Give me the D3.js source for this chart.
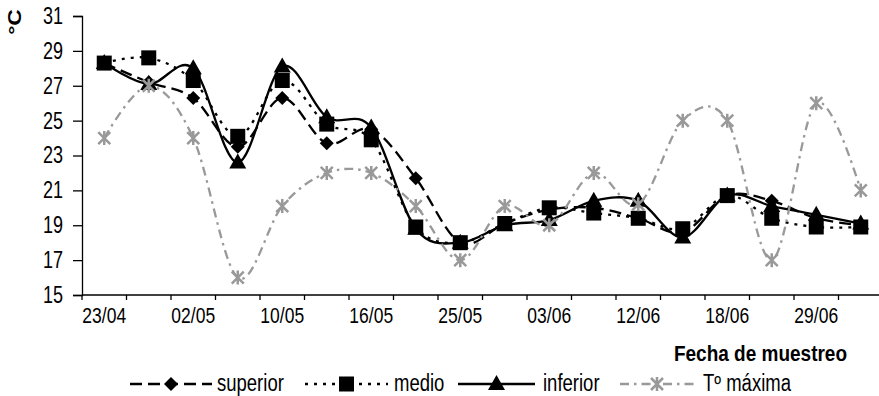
<!DOCTYPE html>
<html>
<head>
<meta charset="utf-8">
<script src="https://cdn.jsdelivr.net/npm/d3@7"></script>
<style>
  body { margin: 0; background: #fff; }
  svg text { font-family: "Liberation Sans", Arial, sans-serif; fill: #000; }
</style>
</head>
<body>
<div id="chart"></div>
<script>
// sampling dates (only every second one is labelled on the axis)
var fechas = ["23/04", "27/04", "02/05", "06/05", "10/05", "13/05", "16/05", "20/05", "25/05",
  "29/05", "03/06", "07/06", "12/06", "15/06", "18/06", "24/06", "29/06", "03/07"];

var superior = [28.3, 27.2, 26.3, 23.5, 26.3, 23.7, 24.5, 21.7, 18.0, 19.1, 19.9, 20.0, 19.4, 18.6, 20.7, 20.4, 19.4, 19.0];
var medio    = [28.3, 28.6, 27.3, 24.1, 27.3, 24.8, 23.9, 18.9, 18.0, 19.1, 20.0, 19.7, 19.4, 18.8, 20.7, 19.4, 18.9, 18.9];
var inferior = [28.3, 27.1, 28.0, 22.6, 28.1, 25.2, 24.6, 18.8, 18.0, 19.0, 19.3, 20.4, 20.4, 18.3, 20.7, 20.1, 19.6, 19.1];
var tmax     = [24.0, 27.0, 24.0, 16.0, 20.1, 22.0, 22.0, 20.1, 17.0, 20.1, 19.0, 22.0, 20.2, 25.0, 25.0, 17.0, 26.0, 21.0];

var yTicks = [15, 17, 19, 21, 23, 25, 27, 29, 31];

var width = 879, height = 396;
var plotLeft = 82, plotRight = 883, plotTop = 16, plotBottom = 295;
var textStretch = 1.3;

var svg = d3.select("#chart").append("svg")
  .attr("width", width).attr("height", height);

var x = d3.scaleBand().domain(fechas).range([plotLeft, plotRight]);
var y = d3.scaleLinear().domain([15, 31]).range([plotBottom, plotTop]);

// series definitions
var series = [
  {name: "superior", values: superior, color: "#000", dash: "12,6", marker: "diamond"},
  {name: "inferior", values: inferior, color: "#000", dash: null, marker: "triangle"},
  {name: "medio", values: medio, color: "#000", dash: "3,6", marker: "square"},
  {name: "Tº máxima", values: tmax, color: "#999", dash: "9,5,2.5,5", marker: "star"}
];
var legendOrder = ["superior", "medio", "inferior", "Tº máxima"];

function drawMarker(g, type, color) {
  if (type === "diamond") {
    g.append("path").attr("d", "M0,-7L7,0L0,7L-7,0Z").attr("fill", color);
  } else if (type === "square") {
    g.append("rect").attr("x", -7.5).attr("y", -7.5).attr("width", 15).attr("height", 15).attr("fill", color);
  } else if (type === "triangle") {
    g.append("path").attr("d", "M0,-9L8.5,6L-8.5,6Z").attr("fill", color);
  } else if (type === "star") {
    g.append("path").attr("d", "M-6,-6L6,6M-6,6L6,-6M0,-7L0,7")
      .attr("stroke", color).attr("stroke-width", 2.5).attr("fill", "none");
  }
}

// axes
var yAxis = svg.append("g")
  .attr("transform", "translate(" + plotLeft + ",0)")
  .call(d3.axisLeft(y).tickValues(yTicks).tickSize(9).tickPadding(10).tickFormat(d3.format("d")));
yAxis.select(".domain").attr("stroke", "#000").attr("stroke-width", 1.3);
yAxis.selectAll(".tick line").attr("stroke", "#000").attr("stroke-width", 1.3);
yAxis.selectAll(".tick text")
  .attr("font-size", 18)
  .attr("font-family", "Liberation Sans, Arial, sans-serif")
  .attr("dy", "0.32em")
  .attr("transform", "scale(1," + textStretch + ")");

var xAxis = svg.append("g")
  .attr("transform", "translate(0," + plotBottom + ")")
  .call(d3.axisBottom(x).tickSize(0).tickSizeOuter(0).tickFormat(function(d, i) { return i % 2 ? "" : d; }));
xAxis.select(".domain").attr("d", "M" + plotLeft + ",0H" + width).attr("stroke", "#000").attr("stroke-width", 1.3);
xAxis.selectAll(".tick text")
  .attr("font-size", 17.5)
  .attr("font-family", "Liberation Sans, Arial, sans-serif")
  .attr("y", 0).attr("dy", 0)
  .attr("transform", "translate(0,28) scale(1," + textStretch + ")");

// tick marks between categories
svg.append("g").selectAll("line")
  .data(fechas)
  .enter().append("line")
    .attr("x1", function(d) { return x(d); })
    .attr("x2", function(d) { return x(d); })
    .attr("y1", plotBottom).attr("y2", plotBottom + 5)
    .attr("stroke", "#000").attr("stroke-width", 1.3);

// lines
var line = d3.line()
  .x(function(d, i) { return x(fechas[i]) + x.bandwidth() / 2; })
  .y(function(d) { return y(d); })
  .curve(d3.curveCardinal.tension(0));

series.forEach(function(s) {
  svg.append("path")
    .datum(s.values)
    .attr("d", line)
    .attr("fill", "none")
    .attr("stroke", s.color)
    .attr("stroke-width", 2.3)
    .attr("stroke-dasharray", s.dash);
});

series.forEach(function(s) {
  svg.append("g").selectAll("g")
    .data(s.values)
    .enter().append("g")
      .attr("transform", function(d, i) { return "translate(" + (x(fechas[i]) + x.bandwidth() / 2) + "," + y(d) + ")"; })
      .each(function() { drawMarker(d3.select(this), s.marker, s.color); });
});

// axis titles
svg.append("text")
  .attr("transform", "translate(21,22) rotate(-90) scale(1.2,1)")
  .attr("text-anchor", "middle")
  .attr("font-size", 19)
  .attr("font-weight", "bold")
  .text("°C");

svg.append("text")
  .attr("transform", "translate(847,361) scale(1,1.2)")
  .attr("text-anchor", "end")
  .attr("font-size", 19)
  .attr("font-weight", "bold")
  .text("Fecha de muestreo");

// legend
var legendPos = {
  "superior": {x1: 130, x2: 212, tx: 217},
  "medio": {x1: 305, x2: 388, tx: 394},
  "inferior": {x1: 458, x2: 535, tx: 543},
  "Tº máxima": {x1: 620, x2: 694, tx: 703}
};
var legendY = 384;
legendOrder.forEach(function(name) {
  var s = series.filter(function(d) { return d.name === name; })[0];
  var p = legendPos[name];
  var g = svg.append("g").attr("class", "legend");
  g.append("line")
    .attr("x1", p.x1).attr("x2", p.x2)
    .attr("y1", legendY).attr("y2", legendY)
    .attr("stroke", s.color).attr("stroke-width", 2.3)
    .attr("stroke-dasharray", s.dash);
  drawMarker(g.append("g").attr("transform", "translate(" + (p.x1 + p.x2) / 2 + "," + legendY + ")"), s.marker, s.color);
  g.append("text")
    .attr("transform", "translate(" + p.tx + "," + (legendY + 7) + ") scale(1,1.25)")
    .attr("font-size", 18.5)
    .text(name);
});
</script>
</body>
</html>
